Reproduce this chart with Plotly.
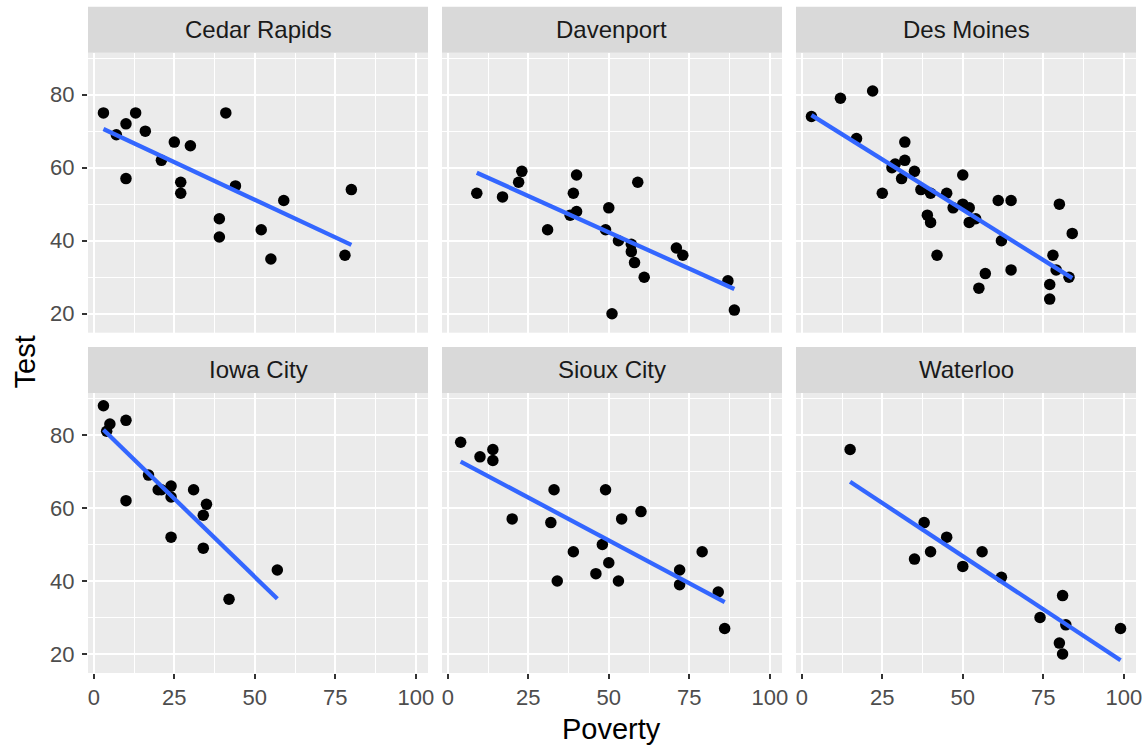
import numpy as np
import plotly.graph_objects as go

W, H = 1148, 745

cities = ["Cedar Rapids", "Davenport", "Des Moines", "Iowa City", "Sioux City", "Waterloo"]

cedar_rapids_poverty = [3, 10, 13, 7, 16, 25, 30, 21, 10, 27, 27, 41, 44, 39, 39, 52, 59, 55, 78, 80]
cedar_rapids_test = [75, 72, 75, 69, 70, 67, 66, 62, 57, 56, 53, 75, 55, 46, 41, 43, 51, 35, 36, 54]

davenport_poverty = [9, 17, 22, 23, 31, 39, 40, 38, 40, 50, 49, 53, 57, 57, 58, 59, 61, 51, 71, 73, 87, 89]
davenport_test = [53, 52, 56, 59, 43, 53, 58, 47, 48, 49, 43, 40, 39, 37, 34, 56, 30, 20, 38, 36, 29, 21]

des_moines_poverty = [3, 12, 22, 17, 32, 32, 29, 28, 35, 31, 25, 37, 40, 45, 50, 39, 40, 47, 50, 52,
                      52, 54, 42, 61, 65, 62, 57, 55, 65, 80, 84, 78, 79, 83, 77, 77]
des_moines_test = [74, 79, 81, 68, 67, 62, 61, 60, 59, 57, 53, 54, 53, 53, 58, 47, 45, 49, 50, 49,
                   45, 46, 36, 51, 51, 40, 31, 27, 32, 50, 42, 36, 32, 30, 28, 24]

iowa_city_poverty = [3, 5, 4, 10, 10, 17, 20, 21, 24, 24, 31, 35, 34, 24, 34, 42, 57]
iowa_city_test = [88, 83, 81, 84, 62, 69, 65, 65, 66, 63, 65, 61, 58, 52, 49, 35, 43]

sioux_city_poverty = [4, 10, 14, 14, 20, 33, 32, 34, 39, 49, 48, 50, 46, 53, 54, 60, 72, 72, 79, 84, 86]
sioux_city_test = [78, 74, 76, 73, 57, 65, 56, 40, 48, 65, 50, 45, 42, 40, 57, 59, 43, 39, 48, 37, 27]

waterloo_poverty = [15, 38, 35, 40, 45, 50, 56, 62, 74, 81, 82, 80, 81, 99]
waterloo_test = [76, 56, 46, 48, 52, 44, 48, 41, 30, 36, 28, 23, 20, 27]

poverty = [cedar_rapids_poverty, davenport_poverty, des_moines_poverty,
           iowa_city_poverty, sioux_city_poverty, waterloo_poverty]
test = [cedar_rapids_test, davenport_test, des_moines_test,
        iowa_city_test, sioux_city_test, waterloo_test]

x_ticks = [0, 25, 50, 75, 100]
y_ticks = [20, 40, 60, 80]

# linear fits (geom_smooth method = "lm")
fits = []
for xs, ys in zip(poverty, test):
    xs = np.array(xs, float)
    ys = np.array(ys, float)
    b, a = np.polyfit(xs, ys, 1)
    x0, x1 = xs.min(), xs.max()
    fits.append(([x0, x1], [a + b * x0, a + b * x1]))

all_x = [v for xs in poverty for v in xs]
all_y = [v for ys in test for v in ys] + [v for f in fits for v in f[1]]
xmin, xmax = min(all_x), max(all_x)
ymin, ymax = min(all_y), max(all_y)
xr = [xmin - 0.05 * (xmax - xmin), xmax + 0.05 * (xmax - xmin)]
yr = [ymin - 0.05 * (ymax - ymin), ymax + 0.05 * (ymax - ymin)]

# layout in pixels
cols = [(88, 428), (442, 782), (796, 1136)]
rows = [(52.7, 332.7), (393, 673)]
strip_h = 46

FONT = "Liberation Sans, Arial, sans-serif"

fig = go.Figure()
layout = dict(width=W, height=H, margin=dict(l=0, r=0, t=0, b=0),
              paper_bgcolor="white", plot_bgcolor="#EBEBEB", showlegend=False,
              font=dict(family=FONT))
shapes = []
annotations = []

for i, city in enumerate(cities):
    r, c = divmod(i, 3)
    idx = i + 1
    xa = "x" if idx == 1 else f"x{idx}"
    ya = "y" if idx == 1 else f"y{idx}"
    xk = "xaxis" if idx == 1 else f"xaxis{idx}"
    yk = "yaxis" if idx == 1 else f"yaxis{idx}"
    x0p, x1p = cols[c]
    y0p, y1p = rows[r]
    layout[xk] = dict(
        domain=[x0p / W, x1p / W], range=xr, anchor=ya,
        tickvals=x_ticks, ticktext=[str(v) for v in x_ticks],
        showgrid=True, gridcolor="white", gridwidth=2,
        minor=dict(tickvals=[12.5, 37.5, 62.5, 87.5], showgrid=True, gridcolor="white", gridwidth=1),
        zeroline=False, showline=False,
        showticklabels=(r == 1), ticks="outside" if r == 1 else "",
        ticklen=5, tickwidth=2, tickcolor="#333333",
        tickfont=dict(size=22, color="#4D4D4D", family=FONT), automargin=False,
    )
    layout[yk] = dict(
        domain=[1 - y1p / H, 1 - y0p / H], range=yr, anchor=xa,
        tickvals=y_ticks, ticktext=[str(v) for v in y_ticks],
        showgrid=True, gridcolor="white", gridwidth=2,
        minor=dict(tickvals=[30, 50, 70, 90], showgrid=True, gridcolor="white", gridwidth=1),
        zeroline=False, showline=False,
        showticklabels=(c == 0), ticks="outside" if c == 0 else "",
        ticklen=5, tickwidth=2, tickcolor="#333333", ticklabelstandoff=3,
        tickfont=dict(size=22, color="#4D4D4D", family=FONT), automargin=False,
    )
    fig.add_trace(go.Scatter(x=poverty[i], y=test[i], mode="markers", xaxis=xa, yaxis=ya,
                             marker=dict(color="black", size=11.5, line=dict(width=0))))
    fx, fy = fits[i]
    fig.add_trace(go.Scatter(x=fx, y=fy, mode="lines", xaxis=xa, yaxis=ya,
                             line=dict(color="#3366FF", width=4.3)))
    # strip
    sy0 = y0p - strip_h
    shapes.append(dict(type="rect", xref="paper", yref="paper",
                       x0=x0p / W, x1=x1p / W, y0=1 - y0p / H, y1=1 - sy0 / H,
                       fillcolor="#D9D9D9", line=dict(width=0), layer="below"))
    annotations.append(dict(text=city, xref="paper", yref="paper",
                            x=(x0p + x1p) / 2 / W, y=1 - (sy0 + strip_h / 2) / H,
                            showarrow=False, xanchor="center", yanchor="middle",
                            font=dict(size=24, color="#1A1A1A", family=FONT)))

annotations.append(dict(text="Poverty", xref="paper", yref="paper", x=612 / W, y=1 - 729 / H,
                        showarrow=False, xanchor="center", yanchor="middle",
                        font=dict(size=29, color="black", family=FONT)))
annotations.append(dict(text="Test", xref="paper", yref="paper", x=24 / W, y=1 - 362.5 / H,
                        showarrow=False, xanchor="center", yanchor="middle", textangle=-90,
                        font=dict(size=29, color="black", family=FONT)))

layout["shapes"] = shapes
layout["annotations"] = annotations
fig.update_layout(**layout)
fig.write_html("out.html", config={"displayModeBar": False},
               post_script="document.body.style.margin='0';")
